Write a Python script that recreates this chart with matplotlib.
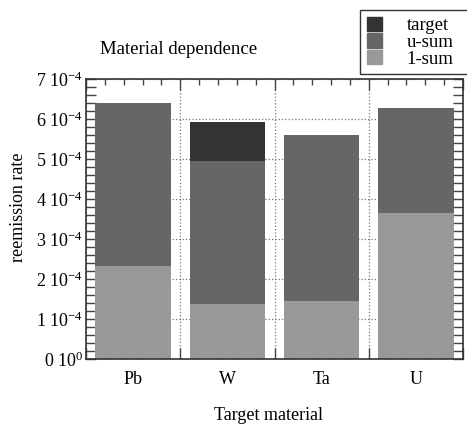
import numpy as np
import matplotlib
matplotlib.use("Agg")
import matplotlib.pyplot as plt
from matplotlib.patches import Patch
from matplotlib.ticker import MultipleLocator, FixedLocator

plt.rcParams['font.family'] = ['Liberation Serif', 'DejaVu Serif']
plt.rcParams['mathtext.fontset'] = 'custom'
plt.rcParams['mathtext.rm'] = 'Liberation Serif'
plt.rcParams['mathtext.it'] = 'Liberation Serif:italic'

# values in units of 1e-4, stacked from bottom
materials = ['Pb', 'W', 'Ta', 'U']
one_sum = np.array([2.33, 1.38, 1.45, 3.65])
u_sum = np.array([4.07, 3.57, 4.15, 2.63])
target = np.array([0.0, 0.97, 0.0, 0.0])
ytick_vals = [0, 1, 2, 3, 4, 5, 6, 7]
ytick_labels = ['0 10$^{0}$'] + ['%d 10$^{-4}$' % v for v in ytick_vals[1:]]

c_target = '#333333'
c_usum = '#666666'
c_1sum = '#999999'

fig = plt.figure(figsize=(4.67, 4.25), dpi=100)
ax = fig.add_axes([86/467, 66/425, 377/467, 280/425])

x = np.arange(len(materials)) + 0.5
w = 0.8
ax.bar(x, one_sum, w, color=c_1sum, zorder=2)
ax.bar(x, u_sum, w, bottom=one_sum, color=c_usum, zorder=2)
ax.bar(x, target, w, bottom=one_sum + u_sum, color=c_target, zorder=2)

ax.set_xlim(0, 4)
ax.set_ylim(0, 7)

ax.xaxis.set_major_locator(FixedLocator([0, 1, 2, 3, 4]))
ax.xaxis.set_minor_locator(MultipleLocator(0.2))
ax.set_xticklabels([])
ax.yaxis.set_major_locator(FixedLocator(ytick_vals))
ax.yaxis.set_minor_locator(MultipleLocator(0.2))
ax.set_yticklabels(ytick_labels, fontsize=13)

ax.tick_params(which='both', direction='in', top=True, right=True,
               color='#444444', width=1)
ax.tick_params(axis='x', which='major', length=8)
ax.tick_params(axis='x', which='minor', length=4)
ax.tick_params(axis='y', which='both', length=7, pad=2)

ax.grid(True, which='major', linestyle=':', color='#777777', linewidth=0.9)
ax.set_axisbelow(True)
for s in ax.spines.values():
    s.set_color('#333333')
    s.set_linewidth(1.2)
    s.set_zorder(3)

for xi, name in zip(x, materials):
    ax.text(xi, -0.3, name, transform=ax.transData, ha='center', va='top',
            fontsize=13)

fig.text(100/467, 1 - 54/425, 'Material dependence', fontsize=13.5,
         ha='left', va='baseline')
fig.text(19/467, 1 - 207/425, 'reemission rate', rotation=90, fontsize=13,
         ha='center', va='center')
fig.text(269/467, 1 - 415/425, 'Target material', fontsize=13,
         ha='center', va='center')

handles = [Patch(color=c_target), Patch(color=c_usum), Patch(color=c_1sum)]
leg = fig.legend(handles, ['target', 'u-sum', '1-sum'],
                 loc='upper left',
                 bbox_to_anchor=(360/467, 1 - 71/425, 112/467, 61/425),
                 mode='expand',
                 fontsize=13.5, frameon=True, fancybox=False, borderaxespad=0,
                 handlelength=0.8, handleheight=0.8, handletextpad=1.35,
                 labelspacing=-0.05, borderpad=0.35)
leg.get_frame().set_edgecolor('black')
leg.get_frame().set_linewidth(1.0)

fig.savefig('out.png', dpi=100)
